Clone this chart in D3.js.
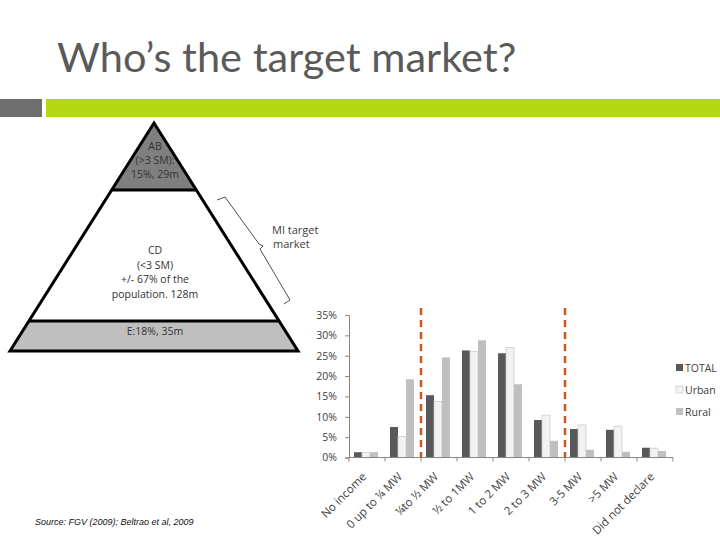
<!DOCTYPE html>
<html lang="en">
<head>
<meta charset="utf-8">
<title>Who's the target market?</title>
<script src="https://d3js.org/d3.v7.min.js"></script>
<style>
  body { margin: 0; background: #fff; }
  .axis text { font-family: "Open Sans", sans-serif; font-size: 10.5px; fill: #404040; }
  .axis line, .axis path { stroke: #868686; }
</style>
</head>
<body>
<script>
// income bands (multiples of minimum wage)
var categories = ["No income", "0 up to \u00bc MW", "\u00bcto \u00bd MW", "\u00bd to 1MW", "1 to 2 MW",
                  "2 to 3 MW", "3-5 MW", ">5 MW", "Did not declare"];
var seriesNames = ["TOTAL", "Urban", "Rural"];
var totalVals = [1.3, 7.5, 15.3, 26.3, 25.6, 9.2, 7.0, 6.8, 2.4];
var urbanVals = [1.2, 5.2, 13.8, 26.0, 27.0, 10.4, 8.0, 7.7, 2.3];
var ruralVals = [1.3, 19.2, 24.6, 28.8, 18.0, 4.1, 1.9, 1.4, 1.6];
var yTicks = [0, 5, 10, 15, 20, 25, 30, 35];
// MI target market sits between these two band boundaries
var markerIdx = [2, 6];

// pyramid layers: label lines and the share of the height each takes
var layerNames = ["AB", "CD", "E"];
var layerLines = [["AB", "(>3 SM):", "15%, 29m"],
                  ["CD", "(<3 SM)", "+/- 67% of the", "population. 128m"],
                  ["E:18%, 35m"]];
var layerBreaks = [0, 67, 198, 228]; // px down from apex

var width = 720, height = 540;
var svg = d3.select("body").append("svg")
    .attr("width", width)
    .attr("height", height);

// ---- header ----
svg.append("text")
    .attr("x", 57).attr("y", 72)
    .attr("font-family", "Lato, sans-serif")
    .attr("font-size", 41.5)
    .attr("fill", "#5a5a5a")
    .text("Who\u2019s the target market?");

svg.append("rect").attr("x", 0).attr("y", 99).attr("width", 42).attr("height", 18).attr("fill", "#6e6e6e");
svg.append("rect").attr("x", 46).attr("y", 99).attr("width", 674).attr("height", 18).attr("fill", "#b5d816");

// ---- pyramid ----
var apex = [154, 123], halfBase = 144, pyrH = 228;
var px = function(dy) { return halfBase * dy / pyrH; };
var layerFill = ["#7f7f7f", "#ffffff", "#bfbfbf"];
var pyr = svg.append("g");

pyr.selectAll("path.layer")
  .data(layerNames)
  .enter().append("path")
    .attr("class", "layer")
    .attr("fill", function(d, i) { return layerFill[i]; })
    .attr("d", function(d, i) {
      var t = layerBreaks[i], b = layerBreaks[i + 1];
      return d3.line()([
        [apex[0] - px(t), apex[1] + t], [apex[0] + px(t), apex[1] + t],
        [apex[0] + px(b), apex[1] + b], [apex[0] - px(b), apex[1] + b]]) + "Z";
    });

// dividers
pyr.selectAll("line.div")
  .data(layerBreaks.slice(1, 3))
  .enter().append("line")
    .attr("x1", function(d) { return apex[0] - px(d); })
    .attr("x2", function(d) { return apex[0] + px(d); })
    .attr("y1", function(d) { return apex[1] + d; })
    .attr("y2", function(d) { return apex[1] + d; })
    .attr("stroke", "#000").attr("stroke-width", 3);

// outline
pyr.append("path")
    .attr("d", d3.line()([[apex[0], apex[1]], [apex[0] + halfBase, apex[1] + pyrH],
                          [apex[0] - halfBase, apex[1] + pyrH]]) + "Z")
    .attr("fill", "none").attr("stroke", "#000").attr("stroke-width", 3)
    .attr("stroke-linejoin", "miter");

var layerTextY = [150, 254, 335];
var layerLineH = [14, 14.5, 0];
layerLines.forEach(function(lines, i) {
  pyr.append("g").selectAll("text")
    .data(lines)
    .enter().append("text")
      .attr("x", 155)
      .attr("y", function(d, j) { return layerTextY[i] + j * layerLineH[i]; })
      .attr("text-anchor", "middle")
      .attr("font-family", "Open Sans, sans-serif")
      .attr("font-size", 10.5)
      .attr("fill", "#333")
      .text(function(d) { return d; });
});

// brace beside the CD layer
pyr.append("path")
    .attr("d", "M217,200 L225,197 L259,244 L263,246 L260,249 L290,300 L284,304")
    .attr("fill", "none").attr("stroke", "#222").attr("stroke-width", 0.8);

pyr.selectAll("text.mi")
  .data(["MI target", "market"])
  .enter().append("text")
    .attr("x", function(d, i) { return 272 + i; })
    .attr("y", function(d, i) { return 234 + i * 14; })
    .attr("font-family", "Open Sans, sans-serif")
    .attr("font-size", 11)
    .attr("fill", "#404040")
    .text(function(d) { return d; });

svg.append("text")
    .attr("x", 35).attr("y", 525)
    .attr("font-family", "Liberation Sans, Arial, sans-serif")
    .attr("font-style", "italic")
    .attr("font-size", 9)
    .attr("fill", "#111")
    .text("Source: FGV (2009); Beltrao et al, 2009");

// ---- bar chart ----
var x0 = d3.scaleBand().domain(categories).range([349, 673]);
var x1 = d3.scaleBand().domain(seriesNames).range([5, x0.bandwidth() - 7]);
var y = d3.scaleLinear().domain([0, 35]).range([457.5, 315]);
var seriesFill = { TOTAL: "#595959", Urban: "#f2f2f2", Rural: "#bfbfbf" };
var seriesVals = { TOTAL: totalVals, Urban: urbanVals, Rural: ruralVals };

var chart = svg.append("g");

var groups = chart.selectAll("g.cat")
  .data(categories)
  .enter().append("g")
    .attr("transform", function(d) { return "translate(" + x0(d) + ",0)"; });

groups.selectAll("rect")
  .data(function(d, i) { return seriesNames.map(function(s) { return { s: s, v: seriesVals[s][i] }; }); })
  .enter().append("rect")
    .attr("x", function(d) { return x1(d.s); })
    .attr("width", x1.bandwidth())
    .attr("y", function(d) { return y(d.v); })
    .attr("height", function(d) { return y(0) - y(d.v); })
    .attr("fill", function(d) { return seriesFill[d.s]; })
    .attr("stroke", function(d) { return d.s == "Urban" ? "#c8c8c8" : "none"; })
    .attr("stroke-width", 0.7);

// y axis
chart.append("g")
    .attr("class", "axis")
    .attr("transform", "translate(349,0)")
    .call(d3.axisLeft(y).tickValues(yTicks).tickSize(4).tickPadding(8)
          .tickFormat(function(d) { return d + "%"; }));

// x axis: ticks at band boundaries
var xAxis = chart.append("g")
    .attr("class", "axis")
    .attr("transform", "translate(0," + y(0) + ")");
xAxis.append("line")
    .attr("x1", x0.range()[0]).attr("x2", x0.range()[1]);
xAxis.selectAll("line.tick")
  .data(categories.concat(["_end"]))
  .enter().append("line")
    .attr("x1", function(d, i) { return x0.range()[0] + i * x0.step(); })
    .attr("x2", function(d, i) { return x0.range()[0] + i * x0.step(); })
    .attr("y1", 0).attr("y2", 4);
xAxis.selectAll("text")
  .data(categories)
  .enter().append("text")
    .attr("text-anchor", "end")
    .style("font-size", "11.5px")
    .attr("transform", function(d) {
      return "translate(" + (x0(d) + x0.bandwidth() / 2) + ",20) rotate(-45)";
    })
    .text(function(d) { return d; });

// dashed markers
chart.selectAll("line.marker")
  .data(markerIdx)
  .enter().append("line")
    .attr("x1", function(d) { return x0(categories[d]); })
    .attr("x2", function(d) { return x0(categories[d]); })
    .attr("y1", 308).attr("y2", y(0))
    .attr("stroke", "#d4501f").attr("stroke-width", 2.5)
    .attr("stroke-dasharray", "7,5");

// legend
var legend = chart.selectAll("g.legend")
  .data(seriesNames)
  .enter().append("g")
    .attr("transform", function(d, i) { return "translate(676," + (364 + i * 22) + ")"; });
legend.append("rect")
    .attr("width", 7).attr("height", 7)
    .attr("fill", function(d) { return seriesFill[d]; })
    .attr("stroke", function(d) { return d == "Urban" ? "#c8c8c8" : "none"; })
    .attr("stroke-width", 0.7);
legend.append("text")
    .attr("x", 9).attr("y", 7.5)
    .attr("font-family", "Open Sans, sans-serif")
    .attr("font-size", 10.5)
    .attr("fill", "#404040")
    .text(function(d) { return d; });
</script>
</body>
</html>
